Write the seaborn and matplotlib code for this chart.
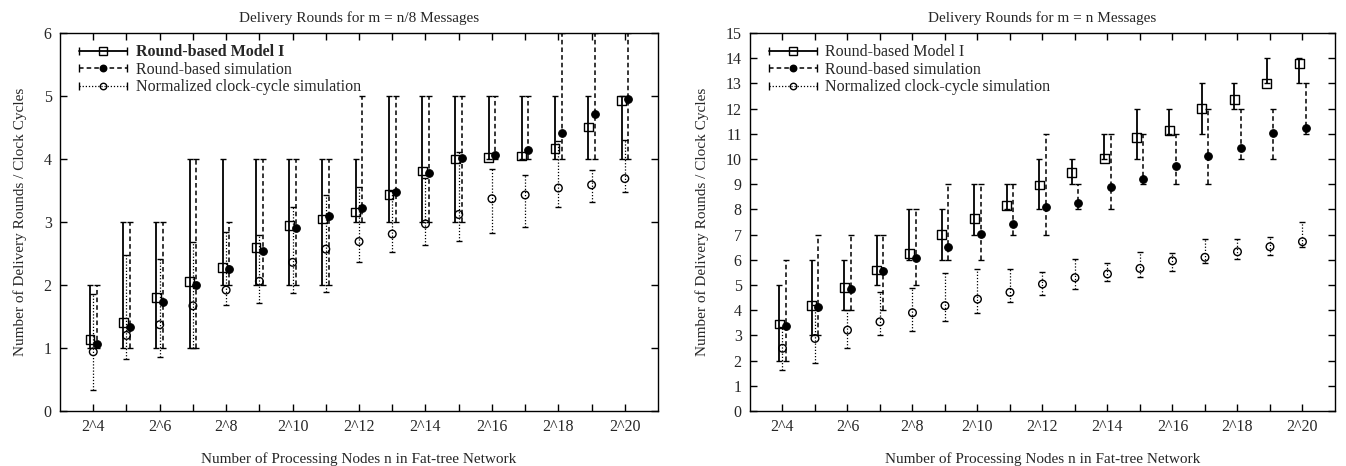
import matplotlib
matplotlib.use("Agg")
import matplotlib.pyplot as plt
import seaborn as sns
import numpy as np
import pandas as pd
from matplotlib.lines import Line2D
from matplotlib.legend_handler import HandlerBase

# ---------------- data ----------------
exponents = list(range(4, 21))
tick_positions = list(range(4, 21, 2))
tick_labels = ["2^%d" % e for e in tick_positions]

titles = ["Delivery Rounds for m = n/8 Messages", "Delivery Rounds for m = n Messages"]
xlabel = "Number of Processing Nodes n in Fat-tree Network"
ylabel = "Number of Delivery Rounds / Clock Cycles"
series_names = ["Round-based Model I", "Round-based simulation", "Normalized clock-cycle simulation"]

# m = n/8
model_mean_a = [1.13, 1.40, 1.80, 2.06, 2.28, 2.59, 2.94, 3.05, 3.16, 3.44, 3.81, 4.00, 4.02, 4.05, 4.17, 4.51, 4.93]
model_lo_a = [1, 1, 1, 1, 2, 2, 2, 2, 3, 3, 3, 3, 4, 4, 4, 4, 4]
model_hi_a = [2, 3, 3, 4, 4, 4, 4, 4, 4, 5, 5, 5, 5, 5, 5, 5, 5]
sim_mean_a = [1.07, 1.34, 1.73, 2.00, 2.25, 2.54, 2.91, 3.09, 3.23, 3.48, 3.78, 4.01, 4.06, 4.15, 4.41, 4.71, 4.96]
sim_lo_a = [1, 1, 1, 1, 2, 2, 2, 2, 3, 3, 3, 3, 4, 4, 4, 4, 4]
sim_hi_a = [2, 3, 3, 4, 3, 4, 4, 4, 5, 5, 5, 5, 5, 5, 6, 6, 6]
norm_mean_a = [0.94, 1.20, 1.37, 1.67, 1.92, 2.06, 2.36, 2.57, 2.69, 2.81, 2.97, 3.12, 3.37, 3.43, 3.54, 3.59, 3.69]
norm_lo_a = [0.33, 0.82, 0.85, 1.00, 1.69, 1.71, 1.88, 1.89, 2.37, 2.52, 2.63, 2.70, 2.82, 2.92, 3.24, 3.32, 3.48]
norm_hi_a = [1.85, 2.48, 2.41, 2.68, 2.84, 2.80, 3.24, 3.43, 3.56, 3.50, 3.70, 4.12, 3.85, 3.75, 4.29, 3.83, 4.30]

# m = n
model_mean_b = [3.45, 4.18, 4.89, 5.60, 6.26, 7.01, 7.65, 8.15, 8.97, 9.46, 10.03, 10.86, 11.12, 12.01, 12.37, 13.00, 13.79]
model_lo_b = [2, 3, 4, 5, 6, 6, 7, 8, 8, 9, 10, 10, 11, 11, 12, 13, 13]
model_hi_b = [5, 6, 6, 7, 8, 8, 9, 9, 10, 10, 11, 12, 12, 13, 13, 14, 14]
sim_mean_b = [3.37, 4.13, 4.83, 5.56, 6.08, 6.49, 7.01, 7.43, 8.11, 8.27, 8.90, 9.21, 9.72, 10.13, 10.42, 11.05, 11.24]
sim_lo_b = [2, 3, 4, 4, 5, 6, 6, 7, 7, 8, 8, 9, 9, 9, 10, 10, 11]
sim_hi_b = [6, 7, 7, 7, 8, 9, 9, 9, 11, 9, 11, 11, 11, 12, 12, 12, 13]
norm_mean_b = [2.49, 2.88, 3.21, 3.54, 3.90, 4.18, 4.44, 4.71, 5.04, 5.29, 5.44, 5.66, 5.96, 6.10, 6.32, 6.52, 6.72]
norm_lo_b = [1.63, 1.89, 2.49, 3.00, 3.17, 3.57, 3.88, 4.31, 4.60, 4.83, 5.17, 5.30, 5.57, 5.89, 6.02, 6.19, 6.50]
norm_hi_b = [3.35, 4.20, 4.00, 4.73, 4.87, 5.49, 5.62, 5.62, 5.53, 6.02, 5.89, 6.32, 6.28, 6.81, 6.81, 6.89, 7.51]

# ---------------- style ----------------
sns.set_theme(style="ticks")
plt.rcParams["font.family"] = ["Liberation Serif", "DejaVu Serif"]
plt.rcParams["font.size"] = 11
plt.rcParams["axes.linewidth"] = 1.0
plt.rcParams["xtick.direction"] = "in"
plt.rcParams["ytick.direction"] = "in"

fig = plt.figure(figsize=(13.46, 4.66), dpi=100)
ax_a = fig.add_axes([0.0446, 0.118, 0.4443, 0.811])
ax_b = fig.add_axes([0.5572, 0.118, 0.4346, 0.811])

OFF = 0.1
styles = [
    dict(ls="-", marker="s", filled=False, size=40, lw=1.3, off=-OFF),
    dict(ls=(0, (3, 2)), marker="o", filled=True, size=30, lw=1.1, off=OFF),
    dict(ls=(0, (1, 1.5)), marker="o", filled=False, size=30, lw=0.9, off=0.0),
]


def draw_series(ax, means, los, his, st, zorder):
    x = np.array(exponents, dtype=float) + st["off"]
    m = np.array(means)
    lo = np.array(los)
    hi = np.array(his)
    eb = ax.errorbar(x, m, yerr=[m - lo, hi - m], fmt="none", ecolor="black",
                     elinewidth=st["lw"], capsize=2.4, capthick=1.0, zorder=zorder)
    for lc in eb[2]:
        lc.set_linestyle(st["ls"])
    df = pd.DataFrame({"x": x, "y": m})
    if st["filled"]:
        sns.scatterplot(data=df, x="x", y="y", ax=ax, marker=st["marker"], s=st["size"],
                        color="black", edgecolor="black", linewidth=0.8, zorder=zorder + 1)
    else:
        sns.scatterplot(data=df, x="x", y="y", ax=ax, marker=st["marker"], s=st["size"],
                        facecolor="none", edgecolor="black", linewidth=1.0, zorder=zorder + 1)


class HandlerCapLine(HandlerBase):
    def __init__(self, st):
        super().__init__()
        self.st = st

    def create_artists(self, legend, orig_handle, xdescent, ydescent, width, height, fontsize, trans):
        st = self.st
        y = height / 2.0 - ydescent
        x0, x1 = -xdescent, width - xdescent
        line = Line2D([x0, x1], [y, y], ls=st["ls"], color="black", lw=st["lw"], transform=trans)
        caps = Line2D([x0, x1], [y, y], ls="none", marker="|", ms=6, mew=1.0, color="black", transform=trans)
        mk = Line2D([(x0 + x1) / 2.0], [y], ls="none", marker=st["marker"],
                    ms=np.sqrt(st["size"]) * 0.85,
                    mfc="black" if st["filled"] else "none", mec="black", mew=1.0, transform=trans)
        return [line, caps, mk]


panels = [
    (ax_a, titles[0], (model_mean_a, model_lo_a, model_hi_a), (sim_mean_a, sim_lo_a, sim_hi_a),
     (norm_mean_a, norm_lo_a, norm_hi_a), 6, True),
    (ax_b, titles[1], (model_mean_b, model_lo_b, model_hi_b), (sim_mean_b, sim_lo_b, sim_hi_b),
     (norm_mean_b, norm_lo_b, norm_hi_b), 15, False),
]

for ax, title, mod, sim, nrm, ymax, bold_first in panels:
    draw_series(ax, *nrm, styles[2], 2)
    draw_series(ax, *sim, styles[1], 4)
    draw_series(ax, *mod, styles[0], 6)
    ax.set_xlim(3, 21)
    ax.set_ylim(0, ymax)
    ax.set_xticks(exponents, minor=True)
    ax.set_xticks(tick_positions)
    ax.set_xticklabels(tick_labels)
    ax.set_yticks(range(0, ymax + 1))
    ax.tick_params(which="both", top=True, right=True, direction="in", length=5, width=1.0,
                   labelsize=11.5, pad=6, color="black")
    ax.tick_params(axis="x", which="minor", length=5)
    for sp in ax.spines.values():
        sp.set_visible(True)
        sp.set_color("black")
    ax.set_title(title, fontsize=11, pad=8)
    ax.set_xlabel(xlabel, fontsize=11, labelpad=12)
    ax.set_ylabel(ylabel, fontsize=11, labelpad=12)

    handles = [Line2D([], []), Line2D([], []), Line2D([], [])]
    hmap = {handles[i]: HandlerCapLine(styles[i]) for i in range(3)}
    leg = ax.legend(handles, series_names, handler_map=hmap, loc="upper left", frameon=False,
                    fontsize=11.5, handlelength=3.0, handletextpad=0.55, labelspacing=0.1,
                    borderaxespad=0.3, bbox_to_anchor=(0.013, 1.0))
    if bold_first:
        leg.get_texts()[0].set_fontweight("bold")

fig.savefig("out.png", dpi=100)
